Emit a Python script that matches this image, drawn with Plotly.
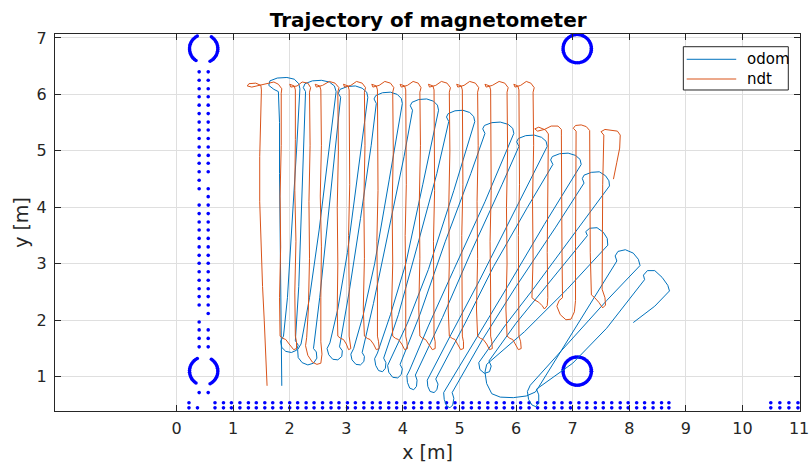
import numpy as np
import plotly.graph_objects as go

# ---------------- trajectories, metres ----------------
# odometry estimate (drifts and rotates over the run)
odom_xy = [
    (1.86,0.84),(1.85,1.60),(1.84,2.60),(1.83,3.60),(1.82,4.60),(1.82,5.50),(1.80,6.05),
    (1.72,6.09),(1.63,6.16),(1.65,6.24),(1.78,6.29),(1.95,6.30),(2.08,6.27),(2.16,6.19),(2.18,6.10),
    (2.12,5.00),(2.04,3.60),(1.96,2.40),(1.89,1.72),
    (1.84,1.63),(1.86,1.52),(1.93,1.45),(2.03,1.43),(2.12,1.47),(2.15,1.56),(2.10,1.64),
    (2.16,2.60),(2.21,4.00),(2.26,5.30),(2.28,6.05),
    (2.24,6.12),(2.27,6.19),(2.40,6.24),(2.56,6.25),(2.70,6.22),(2.79,6.15),(2.82,6.05),
    (2.68,4.90),(2.52,3.60),(2.35,2.40),(2.20,1.58),
    (2.14,1.48),(2.15,1.34),(2.22,1.25),(2.32,1.21),(2.42,1.24),(2.48,1.33),(2.47,1.44),(2.42,1.50),
    (2.53,2.40),(2.68,3.80),(2.82,5.10),(2.90,5.95),
    (2.86,6.02),(2.89,6.09),(3.02,6.14),(3.16,6.15),(3.28,6.11),(3.36,6.04),(3.38,5.95),
    (3.22,4.70),(3.02,3.20),(2.85,2.20),(2.71,1.60),
    (2.66,1.50),(2.69,1.39),(2.76,1.31),(2.85,1.30),(2.92,1.36),(2.93,1.46),(2.88,1.53),
    (3.05,2.50),(3.25,3.80),(3.44,5.10),(3.53,5.84),
    (3.49,5.92),(3.52,5.98),(3.64,6.03),(3.78,6.04),(3.90,6.00),(3.97,5.93),(3.99,5.84),
    (3.76,4.50),(3.50,3.00),(3.30,2.10),(3.13,1.50),
    (3.08,1.40),(3.10,1.30),(3.17,1.22),(3.25,1.21),(3.31,1.27),(3.32,1.36),(3.28,1.43),
    (3.48,2.30),(3.75,3.60),(4.02,4.90),(4.17,5.72),
    (4.13,5.80),(4.16,5.86),(4.28,5.91),(4.42,5.92),(4.54,5.88),(4.61,5.81),(4.63,5.72),
    (4.35,4.40),(4.05,3.00),(3.78,2.10),(3.55,1.42),
    (3.50,1.32),(3.52,1.20),(3.57,1.11),(3.64,1.09),(3.69,1.15),(3.70,1.25),(3.66,1.33),
    (3.92,2.10),(4.25,3.30),(4.60,4.60),(4.81,5.52),
    (4.77,5.60),(4.80,5.66),(4.92,5.71),(5.06,5.72),(5.18,5.68),(5.25,5.61),(5.27,5.52),
    (4.90,4.30),(4.45,2.90),(4.08,1.95),(3.78,1.30),
    (3.73,1.20),(3.75,1.08),(3.82,0.99),(3.91,0.98),(3.97,1.04),(3.99,1.14),(3.95,1.22),
    (4.30,2.10),(4.75,3.40),(5.20,4.60),(5.45,5.31),
    (5.41,5.39),(5.44,5.45),(5.57,5.50),(5.72,5.51),(5.86,5.47),(5.94,5.40),(5.96,5.31),
    (5.45,4.10),(4.90,2.90),(4.45,1.90),(4.12,1.12),
    (4.07,1.02),(4.08,0.90),(4.12,0.80),(4.19,0.77),(4.24,0.83),(4.25,0.94),(4.22,1.03),
    (4.70,2.05),(5.20,3.20),(5.75,4.40),(6.05,5.08),
    (6.01,5.16),(6.04,5.22),(6.17,5.27),(6.32,5.28),(6.45,5.24),(6.53,5.17),(6.55,5.08),
    (5.95,3.90),(5.35,2.70),(4.85,1.75),(4.48,1.04),
    (4.43,0.94),(4.44,0.83),(4.48,0.74),(4.55,0.72),(4.60,0.77),(4.62,0.87),(4.58,0.96),
    (5.10,1.95),(5.60,2.95),(6.20,4.00),(6.65,4.76),
    (6.61,4.84),(6.64,4.90),(6.77,4.95),(6.92,4.96),(7.05,4.92),(7.13,4.85),(7.15,4.76),
    (6.50,3.70),(5.85,2.60),(5.25,1.60),(4.77,0.82),
    (4.72,0.72),(4.73,0.60),(4.77,0.49),(4.83,0.45),(4.88,0.50),(4.90,0.62),(4.87,0.72),
    (5.40,1.65),(6.00,2.60),(6.70,3.65),(7.20,4.43),
    (7.17,4.51),(7.20,4.57),(7.33,4.62),(7.47,4.63),(7.58,4.56),(7.64,4.47),(7.65,4.38),
    (7.00,3.50),(6.30,2.55),(5.80,1.90),(5.40,1.35),
    (5.34,1.25),(5.36,1.13),(5.44,1.06),(5.53,1.09),(5.56,1.19),(5.52,1.28),
    (6.00,1.95),(6.65,2.75),(7.26,3.50),
    (7.23,3.57),(7.30,3.63),(7.43,3.64),(7.54,3.56),(7.61,3.45),(7.62,3.33),
    (6.90,2.55),(6.15,1.80),(5.48,1.22),
    (5.45,1.08),(5.48,0.88),(5.57,0.70),(5.72,0.64),(5.95,0.63),(6.18,0.66),(6.34,0.73),(6.40,0.82),
    (6.85,1.55),(7.35,2.35),(7.78,3.05),
    (7.75,3.14),(7.80,3.22),(7.93,3.25),(8.07,3.19),(8.16,3.08),(8.19,2.97),
    (7.60,2.35),(6.90,1.58),(6.25,0.85),
    (6.20,0.74),(6.22,0.60),(6.28,0.50),(6.35,0.47),(6.40,0.55),(6.40,0.68),(6.36,0.78),
    (7.00,1.24),(7.60,1.86),(8.27,2.72),
    (8.25,2.80),(8.32,2.88),(8.45,2.88),(8.58,2.76),(8.68,2.62),(8.71,2.52),
    (8.45,2.25),(8.20,2.05),(8.07,1.96),
]

# NDT scan-matching estimate (lawn-mower lanes)
ndt_xy = [
    (1.60,0.84),(1.58,1.40),(1.55,2.00),(1.52,2.60),(1.50,3.30),(1.47,4.10),(1.47,4.90),(1.49,5.50),(1.50,6.08),
    (1.49,6.16),(1.40,6.20),(1.28,6.19),(1.25,6.15),(1.33,6.13),(1.45,6.16),(1.60,6.19),(1.72,6.22),(1.80,6.18),(1.86,6.10),(1.85,6.02),
    (1.85,5.10),(1.83,4.20),(1.84,3.30),(1.82,2.40),(1.83,1.72),
    (1.88,1.68),(1.93,1.66),(1.99,1.58),(2.07,1.48),(2.12,1.50),(2.12,1.62),(2.10,1.72),
    (2.09,2.50),(2.11,3.40),(2.09,4.30),(2.10,5.20),(2.10,6.08),
    (2.08,6.15),(2.00,6.18),(2.02,6.13),(2.13,6.15),(2.22,6.22),(2.32,6.20),(2.37,6.12),(2.35,6.04),
    (2.36,5.10),(2.34,4.10),(2.35,3.10),(2.33,2.20),(2.30,1.70),
    (2.28,1.55),(2.32,1.38),(2.40,1.26),(2.48,1.22),(2.55,1.24),(2.57,1.40),(2.55,1.62),
    (2.55,2.40),(2.56,3.30),(2.54,4.20),(2.56,5.10),(2.55,6.08),
    (2.53,6.15),(2.45,6.18),(2.47,6.13),(2.58,6.16),(2.70,6.23),(2.80,6.20),(2.87,6.12),(2.85,6.04),
    (2.86,5.00),(2.84,4.00),(2.85,3.00),(2.84,2.20),(2.85,1.72),
    (2.90,1.68),(2.95,1.66),(3.00,1.58),(3.04,1.48),(3.08,1.50),(3.07,1.62),(3.05,1.72),
    (3.05,2.60),(3.04,3.50),(3.06,4.40),(3.05,5.30),(3.05,6.08),
    (3.03,6.15),(2.95,6.18),(2.97,6.13),(3.08,6.16),(3.18,6.23),(3.28,6.20),(3.34,6.12),(3.32,6.04),
    (3.33,5.10),(3.31,4.10),(3.32,3.10),(3.30,2.20),(3.32,1.72),
    (3.37,1.68),(3.42,1.66),(3.48,1.58),(3.53,1.48),(3.58,1.50),(3.57,1.62),(3.55,1.72),
    (3.55,2.50),(3.54,3.40),(3.56,4.30),(3.55,5.20),(3.55,6.08),
    (3.53,6.15),(3.45,6.18),(3.47,6.13),(3.58,6.16),(3.68,6.23),(3.78,6.20),(3.84,6.12),(3.82,6.04),
    (3.83,5.00),(3.81,4.00),(3.82,3.00),(3.80,2.20),(3.82,1.72),
    (3.87,1.68),(3.92,1.66),(3.98,1.58),(4.03,1.48),(4.08,1.50),(4.07,1.62),(4.05,1.72),
    (4.05,2.60),(4.04,3.50),(4.06,4.40),(4.05,5.30),(4.05,6.08),
    (4.03,6.15),(3.95,6.18),(3.97,6.13),(4.08,6.16),(4.18,6.23),(4.27,6.20),(4.32,6.12),(4.30,6.04),
    (4.31,5.10),(4.29,4.10),(4.30,3.10),(4.28,2.20),(4.30,1.72),
    (4.35,1.68),(4.40,1.66),(4.46,1.58),(4.52,1.48),(4.57,1.50),(4.57,1.62),(4.55,1.72),
    (4.55,2.50),(4.54,3.40),(4.56,4.30),(4.55,5.20),(4.55,6.08),
    (4.53,6.15),(4.45,6.18),(4.47,6.13),(4.58,6.16),(4.68,6.23),(4.78,6.20),(4.84,6.12),(4.82,6.04),
    (4.83,5.00),(4.81,4.00),(4.82,3.00),(4.80,2.20),(4.82,1.72),
    (4.87,1.68),(4.92,1.66),(4.97,1.58),(5.02,1.48),(5.07,1.50),(5.07,1.62),(5.05,1.72),
    (5.05,2.60),(5.04,3.50),(5.06,4.40),(5.05,5.30),(5.05,6.08),
    (5.03,6.15),(4.95,6.18),(4.97,6.13),(5.08,6.16),(5.18,6.23),(5.28,6.20),(5.34,6.12),(5.32,6.04),
    (5.33,5.10),(5.31,4.10),(5.32,3.10),(5.30,2.20),(5.32,1.72),
    (5.37,1.68),(5.42,1.66),(5.48,1.58),(5.53,1.48),(5.58,1.50),(5.57,1.62),(5.55,1.72),
    (5.55,2.50),(5.54,3.40),(5.56,4.30),(5.55,5.20),(5.55,6.08),
    (5.53,6.15),(5.45,6.18),(5.47,6.13),(5.58,6.16),(5.70,6.23),(5.80,6.20),(5.86,6.12),(5.84,6.04),
    (5.85,5.00),(5.83,4.00),(5.84,3.00),(5.82,2.20),(5.84,1.72),
    (5.89,1.68),(5.94,1.66),(5.99,1.58),(6.04,1.48),(6.09,1.50),(6.08,1.62),(6.05,1.72),
    (6.05,2.60),(6.04,3.50),(6.06,4.40),(6.05,5.30),(6.05,6.08),
    (6.03,6.15),(5.96,6.18),(5.98,6.13),(6.08,6.16),(6.18,6.23),(6.26,6.20),(6.32,6.12),(6.30,6.04),
    (6.31,5.10),(6.29,4.10),(6.30,3.10),(6.28,2.40),
    (6.33,2.36),(6.40,2.32),(6.46,2.26),(6.50,2.20),(6.55,2.26),(6.56,2.40),
    (6.55,3.20),(6.56,4.10),(6.57,5.30),
    (6.52,5.37),(6.40,5.42),(6.33,5.39),(6.38,5.35),(6.50,5.38),(6.62,5.44),(6.74,5.44),(6.80,5.38),(6.80,5.28),
    (6.80,4.30),(6.81,3.30),(6.82,2.40),
    (6.76,2.35),(6.72,2.25),(6.78,2.10),(6.88,2.01),(6.97,2.02),(7.03,2.15),(7.05,2.35),
    (7.05,3.30),(7.06,4.30),(7.06,5.35),
    (7.01,5.40),(7.05,5.45),(7.15,5.46),(7.24,5.43),(7.30,5.36),(7.30,5.28),
    (7.30,4.30),(7.31,3.20),(7.33,2.45),
    (7.39,2.40),(7.46,2.32),(7.53,2.22),(7.58,2.27),(7.57,2.40),(7.52,2.55),
    (7.52,3.40),(7.53,4.40),(7.55,5.28),
    (7.50,5.34),(7.57,5.38),(7.68,5.36),(7.79,5.35),(7.84,5.28),(7.83,5.05),
    (7.78,4.80),(7.72,4.50),
]

# ---------------- magnetic map ----------------
# two vertical columns of markers next to the left wall
col_x = [0.40, 0.56]
col_left_y = [0.72, 1.53, 1.68, 1.83, 1.97, 2.27, 2.42, 2.56, 2.71, 2.86, 3.01, 3.15,
              3.30, 3.45, 3.60, 3.74, 3.89, 4.04, 4.33, 4.48, 4.63, 4.78, 4.92, 5.07,
              5.22, 5.37, 5.51, 5.66, 5.81, 5.96, 6.10, 6.25, 6.40]
col_right_y = [0.72, 1.53, 1.68, 1.83, 2.12, 2.27, 2.42, 2.56, 2.71, 2.86, 3.01, 3.15,
               3.30, 3.45, 3.60, 3.74, 3.89, 4.04, 4.19, 4.33, 4.63, 4.78, 4.92, 5.07,
               5.22, 5.37, 5.51, 5.66, 5.81, 5.96, 6.10, 6.25, 6.40]

# two horizontal rows of markers along the bottom wall
row_y = [0.45, 0.54]
row_x = [0.22, 0.68, 0.83, 0.97, 1.12, 1.27, 1.41, 1.56, 1.70, 1.85, 2.00, 2.14, 2.29,
         2.43, 2.58, 2.73, 2.87, 3.02, 3.16, 3.31, 3.46, 3.60, 3.75, 3.89, 4.04, 4.19,
         4.33, 4.48, 4.62, 4.77, 4.92, 5.06, 5.21, 5.35, 5.50, 5.65, 5.79, 5.94, 6.08,
         6.23, 6.38, 6.52, 6.67, 6.81, 6.96, 7.11, 7.25, 7.40, 7.54, 7.69, 7.84, 7.98,
         8.13, 8.27, 8.42, 8.57, 8.70, 10.50, 10.66, 10.82, 10.98]
row_x_lower_only = [0.37]

# ring-shaped markers: centre x, centre y, radius, list of (start, end) arcs in degrees
ring_cx = [0.48, 0.48, 7.08, 7.08]
ring_cy = [6.81, 1.10, 6.81, 1.10]
ring_r = [0.25, 0.25, 0.25, 0.25]
ring_arcs = [[(-63, 63), (117, 243)], [(-63, 63), (117, 243)], [(0, 360)], [(0, 360)]]

# legend entries: label, colour
legend_names = ["odom", "ndt"]
legend_colors = ["#0072BD", "#D95319"]

# ---------------- build marker coordinates ----------------
map_x, map_y = [], []
for cx, ys in zip(col_x, [col_left_y, col_right_y]):
    map_x += [cx] * len(ys)
    map_y += ys
for ry in row_y:
    map_x += row_x
    map_y += [ry] * len(row_x)
map_x += row_x_lower_only
map_y += [row_y[0]] * len(row_x_lower_only)
for cx, cy, r, arcs in zip(ring_cx, ring_cy, ring_r, ring_arcs):
    for a0, a1 in arcs:
        ang = np.radians(np.arange(a0, a1 + 0.01, 7.5))
        map_x += list(cx + r * np.cos(ang))
        map_y += list(cy + r * np.sin(ang))

odom_x, odom_y = zip(*odom_xy)
ndt_x, ndt_y = zip(*ndt_xy)

fig = go.Figure()
fig.add_trace(go.Scatter(x=map_x, y=map_y, mode="markers", showlegend=False,
                         marker=dict(color="#0000FF", size=3.6), hoverinfo="skip"))
fig.add_trace(go.Scatter(x=odom_x, y=odom_y, mode="lines", name=legend_names[0],
                         showlegend=False, line=dict(color=legend_colors[0], width=1)))
fig.add_trace(go.Scatter(x=ndt_x, y=ndt_y, mode="lines", name=legend_names[1],
                         showlegend=False, line=dict(color=legend_colors[1], width=1)))

# boxed legend in the upper right corner of the axes
shapes = [dict(type="rect", xref="paper", yref="paper", x0=0.8434, x1=0.9843,
               y0=0.8515, y1=0.9663, fillcolor="white",
               line=dict(color="#262626", width=1), layer="above")]
annotations = []
for i, (name, col) in enumerate(zip(legend_names, legend_colors)):
    yy = 0.9329 - i * 0.0523
    shapes.append(dict(type="line", xref="paper", yref="paper", x0=0.8479, x1=0.9144,
                       y0=yy, y1=yy, line=dict(color=col, width=1), layer="above"))
    annotations.append(dict(text=name, xref="paper", yref="paper", x=0.9262, y=yy,
                            xanchor="left", yanchor="middle", showarrow=False,
                            font=dict(family="DejaVu Sans", size=15, color="#000000")))

axis_common = dict(
    showgrid=True, gridcolor="#dfdfdf", gridwidth=1, zeroline=False,
    showline=True, linecolor="#262626", linewidth=1, mirror="ticks",
    ticks="inside", ticklen=6, tickcolor="#262626", automargin=False,
    tickfont=dict(family="DejaVu Sans", size=16, color="#262626"),
)

fig.update_layout(
    width=811, height=465,
    margin=dict(l=55, r=11, t=34, b=54),
    paper_bgcolor="white", plot_bgcolor="white",
    font=dict(family="DejaVu Sans", color="#262626"),
    showlegend=False,
    title=dict(text="<b>Trajectory of magnetometer</b>", x=0.528, xanchor="center",
               y=0.958, yanchor="middle", yref="container",
               font=dict(family="DejaVu Sans", size=20, color="#000000")),
    xaxis=dict(range=[-2.147, 11.016], tickvals=list(range(0, 12)),
               title=dict(text="x [m]", font=dict(size=19, color="#262626"), standoff=8),
               ticklabelstandoff=3, **axis_common),
    yaxis=dict(range=[0.394, 7.07], tickvals=list(range(1, 8)),
               title=dict(text="y [m]", font=dict(size=19, color="#262626"), standoff=2),
               ticklabelstandoff=4, **axis_common),
    shapes=shapes,
    annotations=annotations,
)

fig.write_html("out.html")
